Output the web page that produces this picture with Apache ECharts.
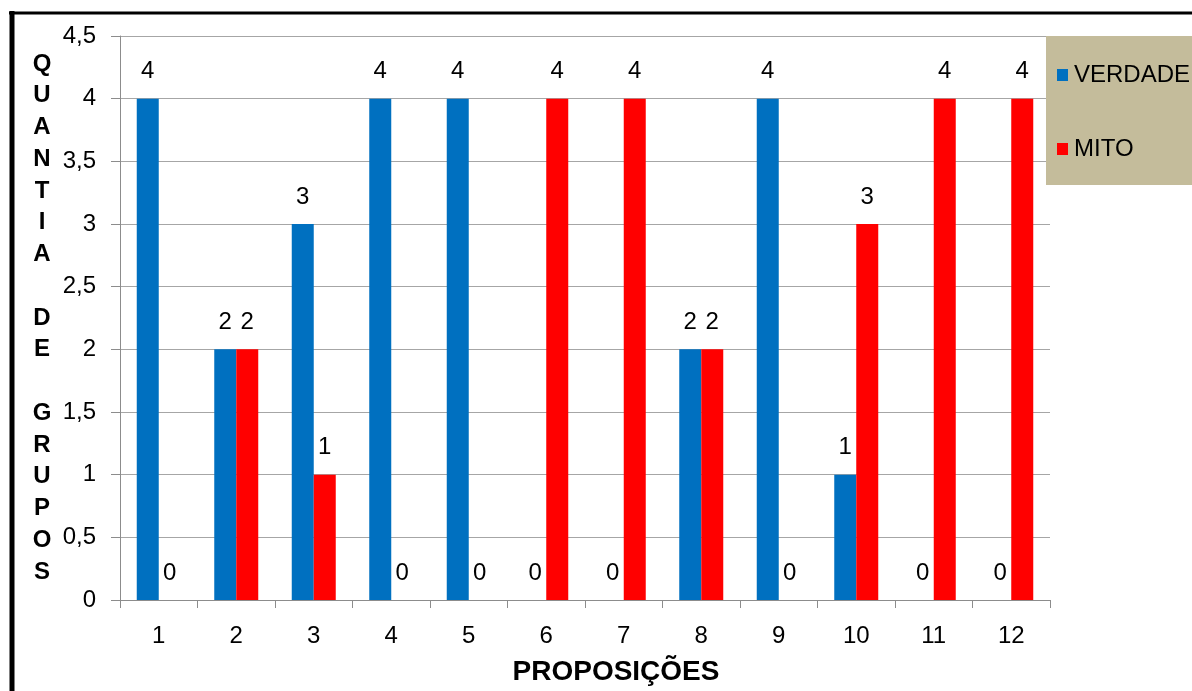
<!DOCTYPE html>
<html>
<head>
<meta charset="utf-8">
<script src="https://cdn.jsdelivr.net/npm/echarts@6/dist/echarts.min.js"></script>
<style>
  html, body { margin: 0; padding: 0; background: #fff; }
  #chart { width: 1192px; height: 691px; }
</style>
</head>
<body>
<div id="chart"></div>
<script>
// Propositions (1..12) and how many groups judged each one true or myth
const categories = ['1', '2', '3', '4', '5', '6', '7', '8', '9', '10', '11', '12'];
const verdade = [4, 2, 3, 4, 4, 0, 0, 2, 4, 1, 0, 0];
const mito    = [0, 2, 1, 0, 0, 4, 4, 2, 0, 3, 4, 4];
const seriesNames = ['VERDADE', 'MITO'];
const yTitle = 'QUANTIA DE GRUPOS';
const xTitle = 'PROPOSIÇÕES';

const FONT = '"Liberation Sans", Arial, sans-serif';
const gridColor = '#a6a6a6';
const axisColor = '#8c8c8c';

const chart = echarts.init(document.getElementById('chart'), null, { renderer: 'canvas' });

const labelStyle = {
  show: true,
  position: 'top',
  distance: 15,
  color: '#000',
  fontFamily: FONT,
  fontSize: 24
};

chart.setOption({
  backgroundColor: '#fff',
  animation: false,
  textStyle: { fontFamily: FONT },
  grid: { left: 120, right: 142, top: 36, bottom: 91, containLabel: false, outerBoundsMode: 'none' },
  legend: {
    orient: 'vertical',
    left: 1046,
    top: 36,
    data: seriesNames,
    icon: 'rect',
    itemWidth: 11,
    itemHeight: 12,
    itemGap: 50,
    padding: [27, 30, 24, 11],
    backgroundColor: '#c4bc9b',
    textStyle: { color: '#000', fontFamily: FONT, fontSize: 24, padding: [0, 0, 0, 1] }
  },
  xAxis: {
    type: 'category',
    data: categories,
    name: xTitle,
    nameLocation: 'middle',
    nameGap: 58,
    nameTextStyle: {
      color: '#000', fontFamily: FONT, fontSize: 28, fontWeight: 'bold',
      padding: [0, 0, 0, 62]
    },
    axisLine: { lineStyle: { color: axisColor, width: 1 } },
    axisTick: { show: true, length: 8, alignWithLabel: false, lineStyle: { color: axisColor } },
    axisLabel: { color: '#000', fontFamily: FONT, fontSize: 24, margin: 24 },
    splitLine: { show: false }
  },
  yAxis: {
    type: 'value',
    min: 0,
    max: 4.5,
    interval: 0.5,
    name: yTitle.split('').join('\n'),
    nameLocation: 'middle',
    nameRotate: 0,
    nameGap: 78,
    nameTextStyle: {
      color: '#000', fontFamily: FONT, fontSize: 24, fontWeight: 'bold',
      lineHeight: 31.75, align: 'center', verticalAlign: 'middle'
    },
    axisLine: { show: true, lineStyle: { color: axisColor, width: 1 } },
    axisTick: { show: true, length: 9, lineStyle: { color: axisColor } },
    axisLabel: {
      color: '#000', fontFamily: FONT, fontSize: 24, margin: 24,
      formatter: v => String(v).replace('.', ',')
    },
    splitLine: { show: true, lineStyle: { color: gridColor, width: 1 } }
  },
  series: [
    {
      name: seriesNames[0],
      type: 'bar',
      data: verdade,
      barWidth: 22,
      barGap: '0%',
      itemStyle: { color: '#0070c0' },
      label: labelStyle
    },
    {
      name: seriesNames[1],
      type: 'bar',
      data: mito,
      barWidth: 22,
      barGap: '0%',
      itemStyle: { color: '#ff0000' },
      label: labelStyle
    }
  ],
  graphic: [
    // frame around the chart area (left and top edges)
    { type: 'line', z: 100, shape: { x1: 12, y1: 11, x2: 12, y2: 700 }, style: { stroke: '#000', lineWidth: 5 } },
    { type: 'line', z: 100, shape: { x1: 9, y1: 13, x2: 1200, y2: 13 }, style: { stroke: '#000', lineWidth: 3 } }
  ]
});
</script>
</body>
</html>
